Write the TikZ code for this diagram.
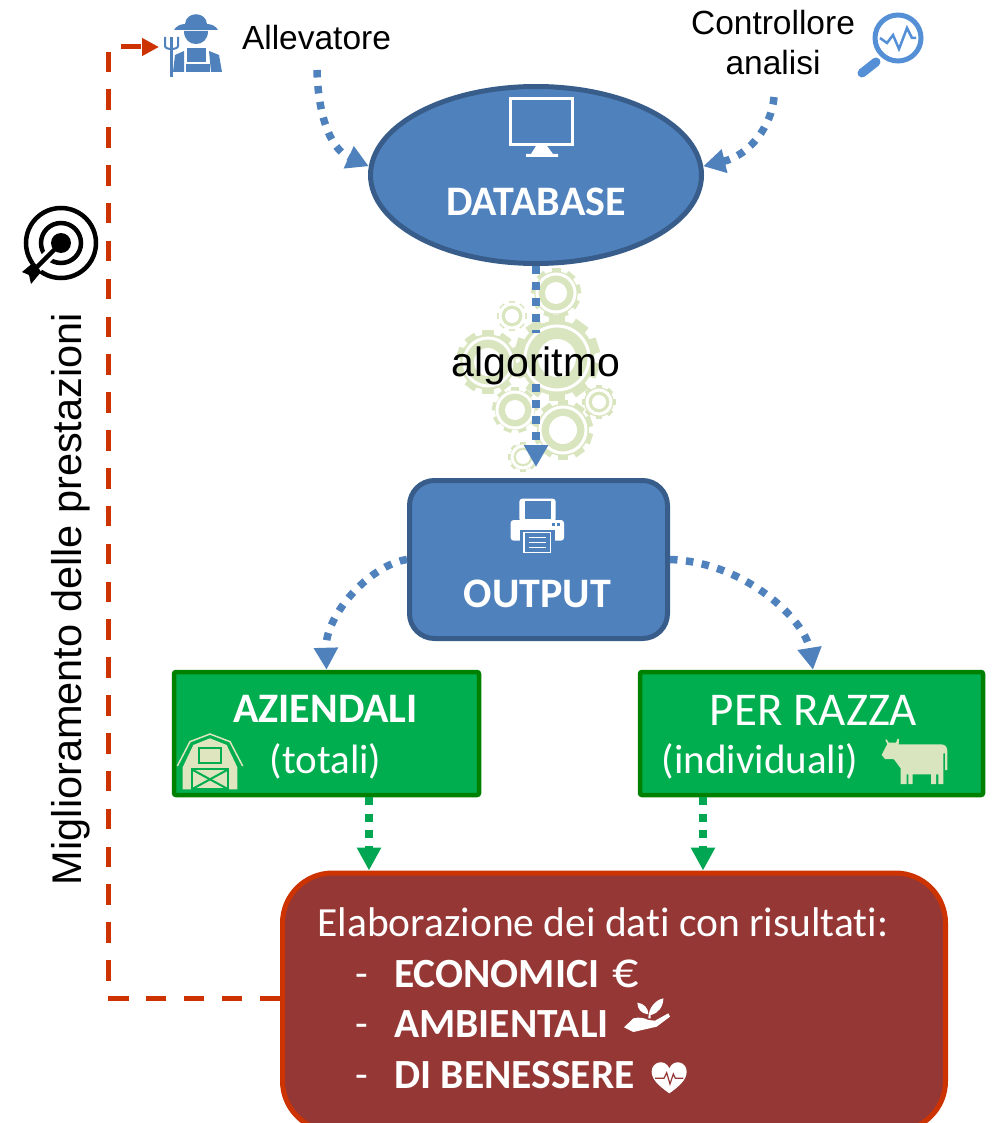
\documentclass[tikz,border=0pt]{standalone}
\usepackage{fontspec}
\usepackage{tikz}
\usetikzlibrary{arrows.meta,shapes.geometric}
\setmainfont{Carlito}[Ligatures=NoCommon]
\newfontfamily\arialfont{Liberation Sans}
\definecolor{bluforma}{HTML}{4F81BD}
\definecolor{blubordo}{HTML}{385D8A}
\definecolor{bluicona}{HTML}{5590D6}
\definecolor{verdeforma}{HTML}{00AE50}
\definecolor{verdebordo}{HTML}{008000}
\definecolor{verdefreccia}{HTML}{00A651}
\definecolor{verdechiaro}{HTML}{D9E5BE}
\definecolor{crema}{HTML}{DFE6BF}
\definecolor{rossoforma}{HTML}{953735}
\definecolor{rossobordo}{HTML}{CC3300}
\tikzset{
  blufreccia/.style={bluforma, line width=7.5pt, dash pattern=on 7.5pt off 8.5pt, -{Triangle[width=23pt,length=22pt]}},
  verdefrecce/.style={verdefreccia, line width=7.5pt, dash pattern=on 8pt off 8.3pt, -{Triangle[width=23pt,length=23pt]}},
  rossafreccia/.style={rossobordo, line width=5pt, dash pattern=on 20.5pt off 17.36pt, -{Triangle[width=17pt,length=17pt]}},
  bluscuro/.style={draw=blubordo, fill=bluforma, line width=5pt, inner sep=0pt},
  verdebox/.style={rectangle, rounded corners=2pt, draw=verdebordo, fill=verdeforma, line width=4.5pt, inner sep=0pt},
  testobianco/.style={anchor=base, text=white, inner sep=0pt},
  testonero/.style={text=black, inner sep=0pt, font=\arialfont\fontsize{33.5}{40}\selectfont, align=center}
}
\newcommand{\grande}{\fontsize{41}{48}\selectfont}
\newcommand{\medio}{\fontsize{42}{48}\selectfont}
\newcommand{\lista}{\fontsize{41.5}{48}\selectfont}
% ingranaggio: x, y, raggio, anello, foro, denti
\newcommand{\ingranaggio}[6]{
  \begin{scope}[shift={(#1,#2)}]
    \foreach \dente in {1,...,#6} {
      \fill[verdechiaro, rotate=\dente*360/#6] (-#3*0.18,-#3) rectangle (#3*0.18,0);
    }
    \fill[verdechiaro] (0,0) circle(#3*0.87);
    \draw[white, line width=3pt] (0,0) circle(#4);
    \fill[white] (0,0) circle(#5);
  \end{scope}
}
\begin{document}
\begin{tikzpicture}[x=1pt, y=-1pt]
  \path[use as bounding box, clip] (0,0) rectangle (998,1123);

  %Ingranaggi
  \ingranaggio{556}{293}{25}{19}{11}{9}
  \ingranaggio{512}{316}{15}{12}{7}{8}
  \ingranaggio{488}{362}{32}{24}{14}{10}
  \ingranaggio{557}{358}{43}{32}{19}{10}
  \ingranaggio{515}{410}{23}{18}{10}{9}
  \ingranaggio{599}{402}{17}{12}{7}{8}
  \ingranaggio{563}{430}{30}{23}{14}{10}
  \ingranaggio{523}{457}{15}{11}{7}{8}

  %Forme
  \node[bluscuro, ellipse, minimum width=331pt, minimum height=177pt] (database) at (536,175) {};
  \node[bluscuro, rectangle, rounded corners=25pt, minimum width=258pt, minimum height=158pt] (output) at (538.5,559.5) {};
  \node[verdebox, minimum width=305pt, minimum height=123pt] (aziendali) at (326.5,733.5) {};
  \node[verdebox, minimum width=343pt, minimum height=123pt] (razza) at (811.5,733.5) {};
  \node[rectangle, rounded corners=50pt, draw=rossobordo, fill=rossoforma, line width=5pt, minimum width=663pt, minimum height=258pt] (risultati) at (614,1002) {};

  %Testi in alto
  \node[testonero] (allevatore) at (316.5,38) {Allevatore};
  \node[testonero] (controllore) at (773,43) {Controllore\\analisi};
  \node[anchor=base, inner sep=0pt, text height=43pt, text depth=8pt, font=\arialfont\fontsize{41}{48}\selectfont] (algoritmo) at (536,376) {algoritmo};
  \node[anchor=base, inner sep=0pt, rotate=90, font=\arialfont\fontsize{41.5}{48}\selectfont] (miglioramento) at (81,599) {Miglioramento delle prestazioni};

  %Testi nelle forme
  \node[testobianco, font=\medio\bfseries] (databasetesto) at (536,215) {DATABASE};
  \node[testobianco, font=\medio\bfseries] (outputtesto) at (537.5,607) {OUTPUT};
  \node[testobianco, font=\medio\bfseries] (aziendalitesto) at (325.5,722) {AZIENDALI};
  \node[testobianco, font=\grande] (totali) at (325.5,773) {(totali)};
  \node[testobianco, font=\fontsize{47}{54}\selectfont] (razzatesto) at (813.5,725) {PER RAZZA};
  \node[testobianco, font=\grande] (individuali) at (760,773) {(individuali)};
  \node[testobianco, font=\lista] (elaborazione) at (603,936) {Elaborazione dei dati con risultati:};
  \node[testobianco, font=\lista] (trattino1) at (362,987) {-};
  \node[testobianco, font=\lista] (trattino2) at (362,1037) {-};
  \node[testobianco, font=\lista] (trattino3) at (362,1088) {-};
  \node[testobianco, anchor=base west, font=\lista\bfseries] (economici) at (394,987) {ECONOMICI};
  \node[testobianco, anchor=base west, font=\lista\bfseries] (ambientali) at (394,1037) {AMBIENTALI};
  \node[testobianco, anchor=base west, font=\lista\bfseries] (benessere) at (394,1088) {DI BENESSERE};
  \node[testobianco, font=\fontsize{52}{58}\selectfont] (euro) at (626,987) {€};

  %Punti liberi
  \coordinate (partenzaallevatore) at (317,70);
  \coordinate (partenzacontrollore) at (774,97);
  \coordinate (arrivooutput) at (536,467);
  \coordinate (angolo) at (108,47);
  \coordinate (fattore) at (159,47);

  %Frecce
  \draw[blufreccia] (partenzaallevatore) .. controls (318,110) and (328,148) .. (database.177);
  \draw[blufreccia] (partenzacontrollore) .. controls (772,125) and (750,155) .. (database.3);
  \draw[blufreccia, -] (database.south) -- (algoritmo.north);
  \draw[blufreccia] (algoritmo.south) -- (arrivooutput);
  \draw[blufreccia] (output.west) .. controls (370,565) and (325,615) .. (aziendali.north);
  \draw[blufreccia] (output.east) .. controls (745,562) and (805,620) .. ([xshift=1.5pt]razza.north);
  \draw[verdefrecce] ([xshift=42.5pt]aziendali.south) -- ([xshift=-245pt]risultati.north);
  \draw[verdefrecce] ([xshift=-108.5pt]razza.south) -- ([xshift=89pt]risultati.north);
  \draw[rossafreccia] ([yshift=4pt]risultati.west) -| (angolo) -- (fattore);

  %Allevatore
  \begin{scope}[bluforma]
    \fill (185,24) .. controls (186,11) and (206,11) .. (207,24) .. controls (211,24) and (216,26) .. (218,30) -- (174,30) .. controls (176,26) and (181,24) .. (185,24) -- cycle;
    \fill (184,31) -- (208,31) .. controls (208,40) and (202,44) .. (196,44) .. controls (190,44) and (184,40) .. (184,31) -- cycle;
    \fill (187,48) rectangle (206,62);
    \fill (186,64) rectangle (210,72);
    \fill (184,51) -- (184,72) -- (173,72) -- (175,55) -- cycle;
    \fill (209,51) -- (219,55) -- (222,72) -- (211,72) -- cycle;
    \draw[line width=3pt] (171,37) -- (171,77);
    \draw[line width=2pt] (165,37) -- (165,46) .. controls (165,50) and (178,50) .. (178,46) -- (178,37);
  \end{scope}

  %Lente
  \begin{scope}[bluicona]
    \draw[line width=5pt] (898,38) circle(23);
    \draw[line width=9pt, line cap=round] (876,62) -- (862,73);
    \draw[line width=2.5pt] (880,38) -- (887,43) -- (893,35) -- (899,49) -- (907,28) -- (912,38) -- (916,38);
  \end{scope}

  %Bersaglio
  \draw[black, line width=4.5pt] (61,243) circle(35);
  \draw[black, line width=4.5pt] (61,243) circle(20);
  \draw[white, line width=11pt] (61,243) -- (30,274);
  \fill[black] (61,243) circle(10);
  \draw[black, line width=4.5pt] (61,243) -- (33,271);
  \fill[black] (22,272) -- (34,262) -- (38,267) -- (41,272) -- (31,284) -- (29,275) -- cycle;

  %Monitor
  \draw[white, line width=3pt] (510.5,98.5) rectangle (572.5,144.5);
  \fill[white] (536,146) -- (547,146) -- (553,154) -- (558,154) -- (558,157) -- (526,157) -- (526,154) -- (531,154) -- cycle;

  %Stampante
  \begin{scope}[shift={(490,480)}, scale=1/3]
    \fill[white, rounded corners=3pt] (88,56) rectangle (197,125);
    \fill[bluforma] (105,62) rectangle (183,118);
    \fill[white, rounded corners=3pt] (62,120) rectangle (222,182);
    \fill[bluforma] (90,150) rectangle (195,182);
    \fill[bluforma] (186,128) rectangle (196,137);
    \fill[bluforma] (200,128) rectangle (210,137);
    \draw[white, line width=1.5pt, fill=bluforma] (102,157) rectangle (181,217);
    \draw[white, line width=1.5pt] (116,172) -- (168,172);
    \draw[white, line width=1.5pt] (116,187) -- (168,187);
    \draw[white, line width=1.5pt] (116,202) -- (168,202);
  \end{scope}

  %Fienile
  \begin{scope}[shift={(160,660)}, scale=1/3]
    \draw[crema, line width=1.5pt] (52,318) -- (90,245) -- (150,222) -- (210,245) -- (248,318);
    \fill[crema] (68,388) -- (68,322) -- (100,255) -- (150,235) -- (200,255) -- (232,322) -- (232,388) -- cycle;
    \draw[verdeforma, line width=2pt] (118,265) rectangle (182,308);
    \draw[verdeforma, line width=2pt] (95,328) rectangle (205,388);
    \draw[verdeforma, line width=2pt] (95,328) -- (205,388);
    \draw[verdeforma, line width=2pt] (205,328) -- (95,388);
  \end{scope}

  %Mucca
  \begin{scope}[shift={(630,660)}, scale=1/3]
    \fill[verdechiaro] (770,238) -- (776,248) -- (798,248) -- (803,236) -- (807,238) -- (806,253) -- (935,253) .. controls (948,255) and (952,262) .. (952,275) -- (952,330) -- (945,330) -- (945,280) -- (940,280) -- (940,372) -- (925,372) -- (925,343) -- (918,343) -- (918,372) -- (903,372) -- (903,343) -- (848,343) -- (848,372) -- (835,372) -- (835,343) -- (830,343) -- (830,372) -- (812,372) -- (812,325) .. controls (800,310) and (795,300) .. (790,297) -- (765,297) -- (755,285) -- (765,265) -- (772,252) -- (766,240) -- cycle;
  \end{scope}

  %Mano e cuore
  \begin{scope}[shift={(340,950)}, scale=1/3, white]
    \fill (925,205) .. controls (925,175) and (945,150) .. (970,145) .. controls (970,170) and (955,190) .. (932,195) -- (932,205) -- cycle;
    \fill (920,192) .. controls (905,190) and (892,178) .. (892,158) .. controls (912,160) and (925,175) .. (925,192) -- cycle;
    \fill (852,232) -- (880,205) .. controls (900,200) and (915,205) .. (925,210) -- (945,212) -- (985,190) -- (990,200) -- (950,230) -- (880,246) -- cycle;
    \fill (988,430) .. controls (960,410) and (935,390) .. (935,365) .. controls (935,335) and (975,325) .. (988,355) .. controls (1001,325) and (1040,335) .. (1040,365) .. controls (1040,390) and (1016,410) .. (988,430) -- cycle;
    \draw[rossoforma, line width=1.2pt] (945,385) -- (972,385) -- (980,368) -- (990,402) -- (1000,372) -- (1006,385) -- (1030,385);
  \end{scope}
\end{tikzpicture}
\end{document}
